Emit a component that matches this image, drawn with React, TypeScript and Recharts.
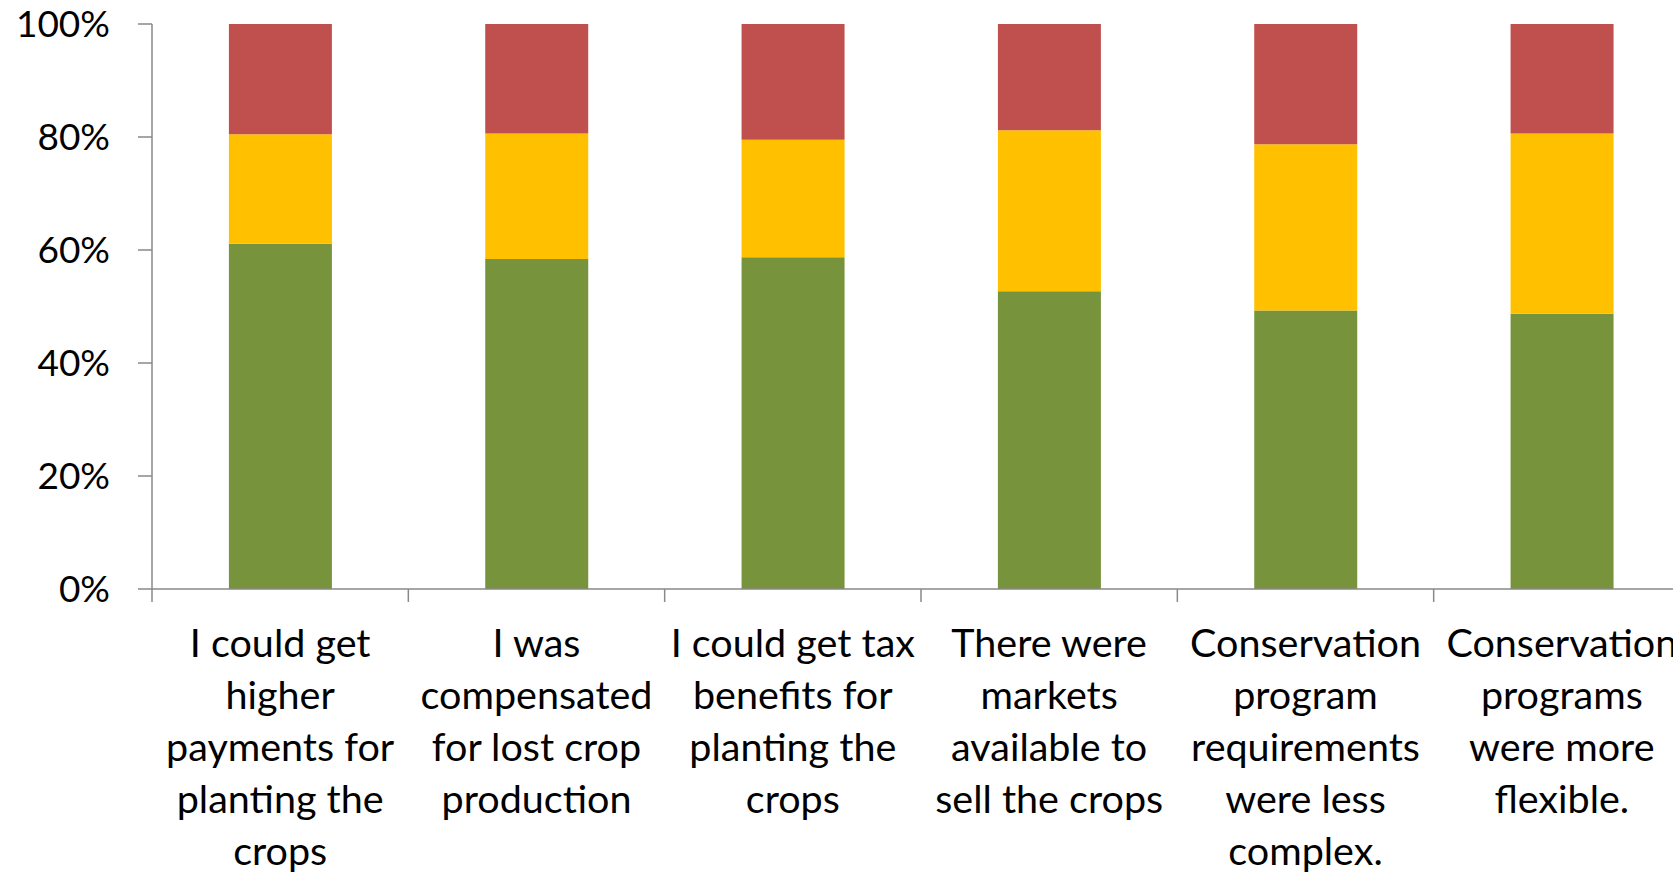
import React from 'react';
import { BarChart, Bar, XAxis, YAxis } from 'recharts';

// category labels, already broken into the lines used on the axis
const categoryLines: string[][] = [
    ['I could get', 'higher', 'payments for', 'planting the', 'crops'],
    ['I was', 'compensated', 'for lost crop', 'production'],
    ['I could get tax', 'benefits for', 'planting the', 'crops'],
    ['There were', 'markets', 'available to', 'sell the crops'],
    ['Conservation', 'program', 'requirements', 'were less', 'complex.'],
    ['Conservation', 'programs', 'were more', 'flexible.'],
];
const categories = categoryLines.map((l) => l.join(' '));

// shares in percent (bottom to top)
const greenValues = [61.1, 58.4, 58.7, 52.7, 49.3, 48.7];
const yellowValues = [19.4, 22.2, 20.8, 28.5, 29.4, 31.9];
const redValues = [19.5, 19.4, 20.5, 18.8, 21.3, 19.4];

const yTicks = [0, 20, 40, 60, 80, 100];

const data = categories.map((name, i) => ({
    name,
    green: greenValues[i],
    yellow: yellowValues[i],
    red: redValues[i],
}));

const FONT = 'Lato, "Open Sans", sans-serif';
const AXIS = '#898989';

const CHART_W = 1700;
const Y_AXIS_W = 152;
const MARGIN = { top: 24, right: 10, left: 0, bottom: 0 };
const BAND = (CHART_W - Y_AXIS_W - MARGIN.left - MARGIN.right) / categories.length;

const CategoryTick = (props: any) => {
    const { x, y, index } = props;
    const lines = categoryLines[index] || [];
    // Excel puts the tick marks between categories, not under them
    const edge = x - BAND / 2;
    return (
        <g>
            <line x1={edge} y1={y} x2={edge} y2={y + 13} stroke={AXIS} strokeWidth={1.5} />
            <text x={x} y={y} textAnchor="middle" fill="#000" fontSize={39.5} fontFamily={FONT}>
                {lines.map((line, i) => (
                    <tspan key={i} x={x} dy={i === 0 ? 68 : 52}>{line}</tspan>
                ))}
            </text>
        </g>
    );
};

export default function App() {
    return (
        <div style={{ position: 'absolute', left: 0, top: 0, width: 1673, height: 874, overflow: 'hidden', background: '#fff' }}>
            <BarChart
                width={CHART_W}
                height={874}
                data={data}
                barCategoryGap="30%"
                margin={MARGIN}
                style={{ fontFamily: FONT }}
            >
                <XAxis
                    dataKey="name"
                    height={285}
                    axisLine={{ stroke: AXIS, strokeWidth: 1.5 }}
                    tickLine={false}
                    tickSize={0}
                    tickMargin={0}
                    interval={0}
                    tick={<CategoryTick />}
                />
                <YAxis
                    domain={[0, 100]}
                    ticks={yTicks}
                    width={Y_AXIS_W}
                    tickFormatter={(v: number) => `${v}%`}
                    axisLine={{ stroke: AXIS, strokeWidth: 1.5 }}
                    tickLine={{ stroke: AXIS, strokeWidth: 1.5 }}
                    tickSize={14}
                    tickMargin={28}
                    tick={{ fill: '#000', fontSize: 37, fontFamily: FONT }}
                />
                <Bar dataKey="green" stackId="a" fill="#77933C" isAnimationActive={false} />
                <Bar dataKey="yellow" stackId="a" fill="#FFC000" isAnimationActive={false} />
                <Bar dataKey="red" stackId="a" fill="#C0504D" isAnimationActive={false} />
            </BarChart>
        </div>
    );
}
